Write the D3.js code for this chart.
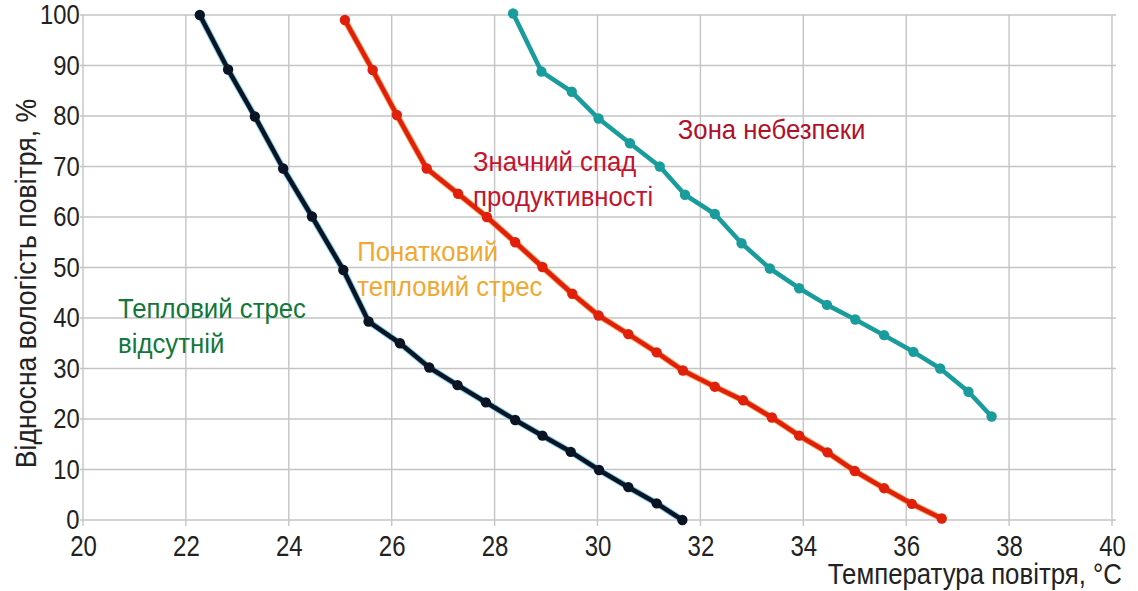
<!DOCTYPE html>
<html><head><meta charset="utf-8">
<script src="https://cdn.jsdelivr.net/npm/d3@7"></script>
<style>
html,body{margin:0;padding:0;background:#fff;}
text{font-family:"Liberation Sans","Arial",sans-serif;}
</style></head>
<body>
<svg id="chart" width="1138" height="591"></svg>
<script>
// ---- data ----
const xTicks = [20,22,24,26,28,30,32,34,36,38,40];
const yTicks = [0,10,20,30,40,50,60,70,80,90,100];

const noStressX = [22.27,22.82,23.34,23.89,24.45,25.06,25.55,26.16,26.73,27.28,27.83,28.40,28.93,29.48,30.03,30.60,31.15,31.65];
const noStressY = [100,89.2,79.9,69.6,60.1,49.5,39.3,35.0,30.2,26.7,23.3,19.8,16.7,13.5,9.9,6.5,3.3,0];

const declineX = [25.09,25.63,26.10,26.68,27.29,27.85,28.40,28.93,29.51,30.02,30.60,31.15,31.66,32.28,32.83,33.39,33.92,34.47,35.00,35.57,36.11,36.69];
const declineY = [99.0,89.1,80.2,69.6,64.6,60.0,55.0,50.1,44.8,40.5,36.8,33.2,29.6,26.4,23.7,20.3,16.7,13.4,9.7,6.3,3.2,0.3];

const dangerX = [28.36,28.91,29.50,30.02,30.63,31.21,31.70,32.28,32.80,33.35,33.92,34.46,35.01,35.57,36.14,36.66,37.21,37.66];
const dangerY = [100.3,88.8,84.8,79.5,74.6,70.0,64.4,60.6,54.8,49.8,45.9,42.6,39.7,36.6,33.3,30.0,25.4,20.5];

const xTitle = "Температура повітря, °C";
const yTitle = "Відносна вологість повітря, %";

const labels = [
  {lines:["Тепловий стрес","відсутній"], x:20.68, y:40.0, color:"#12773a"},
  {lines:["Понатковий","тепловий стрес"], x:25.33, y:51.3, color:"#f0a830"},
  {lines:["Значний спад","продуктивності"], x:27.58, y:69.2, color:"#c4142e"},
  {lines:["Зона небезпеки"], x:31.56, y:75.4, color:"#b0102a"}
];

// ---- layout ----
const W = 1138, H = 591;
const m = {left:83, right:26, top:15, bottom:71};
const svg = d3.select("#chart");
const x = d3.scaleLinear().domain([20,40]).range([m.left, W - m.right]);
const y = d3.scaleLinear().domain([0,100]).range([H - m.bottom, m.top]);

// grid
const grid = svg.append("g");
grid.selectAll("line.v").data(xTicks).join("line")
  .attr("x1", d => x(d)).attr("x2", d => x(d))
  .attr("y1", y(100)).attr("y2", y(0) + 6)
  .attr("stroke", "#c4c4c4").attr("stroke-width", 1.4);
grid.selectAll("line.h").data(yTicks).join("line")
  .attr("x1", x(20) - 3).attr("x2", x(40) + 4)
  .attr("y1", d => y(d)).attr("y2", d => y(d))
  .attr("stroke", "#c4c4c4").attr("stroke-width", 1.4);

// axes (labels only), narrowed glyphs
const xAxis = svg.append("g").attr("transform", `translate(0,${y(0)})`)
  .call(d3.axisBottom(x).tickValues(xTicks).tickSize(0).tickPadding(15));
xAxis.select(".domain").remove();
xAxis.selectAll("text").attr("font-size", 30).attr("fill", "#222")
  .attr("font-family", '"Liberation Sans",sans-serif')
  .attr("transform", "scale(0.8,1)");

const yAxis = svg.append("g").attr("transform", `translate(${x(20)},0)`)
  .call(d3.axisLeft(y).tickValues(yTicks).tickSize(0).tickPadding(4));
yAxis.select(".domain").remove();
yAxis.selectAll("text").attr("font-size", 28).attr("fill", "#222")
  .attr("font-family", '"Liberation Sans",sans-serif')
  .attr("transform", "scale(0.85,1)");

// titles
svg.append("g").attr("transform", "translate(1122,584) scale(0.86,1)")
  .append("text").attr("text-anchor", "end")
  .attr("font-size", 30).attr("fill", "#222").text(xTitle);
svg.append("g").attr("transform", `translate(36,${(467+100)/2}) rotate(-90) scale(0.92,1)`)
  .append("text").attr("text-anchor", "middle").attr("font-size", 29).attr("fill", "#222").text(yTitle);

// series
const line = d3.line().x(d => x(d[0])).y(d => y(d[1]));
function series(xs, ys, color, halo) {
  const pts = xs.map((v, i) => [v, ys[i]]);
  const g = svg.append("g");
  if (halo) g.append("path").datum(pts).attr("d", line).attr("fill", "none")
    .attr("stroke", halo).attr("stroke-width", 6.5).attr("stroke-linejoin", "round");
  g.append("path").datum(pts).attr("d", line).attr("fill", "none")
    .attr("stroke", color).attr("stroke-width", 4.6).attr("stroke-linejoin", "round");
  g.selectAll("circle").data(pts).join("circle")
    .attr("cx", d => x(d[0])).attr("cy", d => y(d[1])).attr("r", 5.2)
    .attr("fill", color);
}
series(noStressX, noStressY, "#0b1424", "#7fd0ea");
series(declineX, declineY, "#e0200a", "#f6b070");
series(dangerX, dangerY, "#1a9c9c", null);

// annotations
labels.forEach(l => {
  const t = svg.append("g").attr("transform", `translate(${x(l.x)},${y(l.y)}) scale(0.92,1)`)
    .append("text").attr("font-size", 28).attr("fill", l.color);
  l.lines.forEach((s, i) => {
    t.append("tspan").attr("x", 0).attr("y", i * 35).text(s);
  });
});
</script>
</body></html>
